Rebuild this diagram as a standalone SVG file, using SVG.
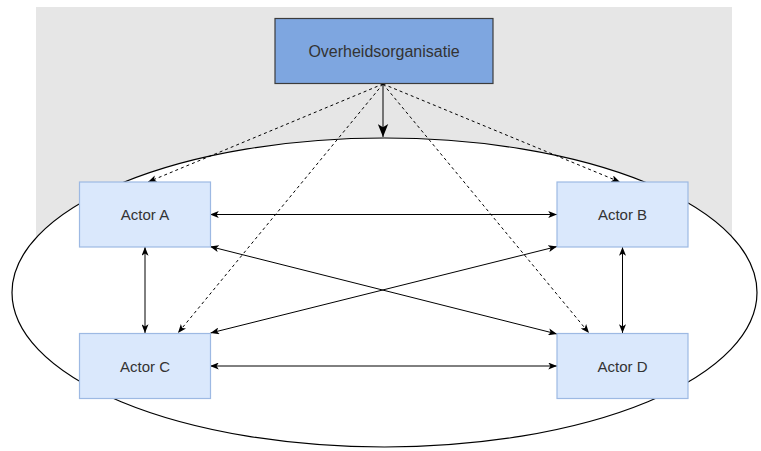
<svg xmlns="http://www.w3.org/2000/svg" width="761" height="451" viewBox="0 0 761 451">
<style>
.lbl{font-family:"Liberation Sans",Arial,sans-serif;fill:#333;text-anchor:middle}
.actor{fill:#DAE8FC;stroke:#9DB9E3;stroke-width:1.2}
.c{fill:none;stroke:#000;stroke-width:1}
.d{fill:none;stroke:#000;stroke-width:1;stroke-dasharray:3 3}
</style>
<defs>
<marker id="arr" viewBox="0 0 10 8" refX="10" refY="4" markerWidth="9" markerHeight="7" markerUnits="userSpaceOnUse" orient="auto-start-reverse">
<path d="M0,0 L10,4 L0,8 L2.5,4 z" fill="#000" stroke="none"/>
</marker>
<marker id="arrBig" viewBox="0 0 10 8" refX="10" refY="4" markerWidth="13" markerHeight="11" markerUnits="userSpaceOnUse" orient="auto">
<path d="M0,0 L10,4 L0,8 L2.5,4 z" fill="#000" stroke="none"/>
</marker>
</defs>
<rect x="36" y="7" width="696" height="231" fill="#E6E6E6"/>
<ellipse id="network" cx="384.5" cy="292.5" rx="372.5" ry="154.5" fill="#fff" stroke="#000" stroke-width="1.2"/>
<g id="connectors">
<line class="c" x1="383" y1="84" x2="383" y2="137" stroke-width="2" marker-end="url(#arrBig)"/>
<line class="d" x1="383" y1="84" x2="148" y2="182" marker-end="url(#arr)"/>
<line class="d" x1="383" y1="84" x2="620" y2="182" marker-end="url(#arr)"/>
<line class="d" x1="383" y1="84" x2="178" y2="333" marker-end="url(#arr)"/>
<line class="d" x1="383" y1="84" x2="589" y2="333" marker-end="url(#arr)"/>
<line class="c" x1="210" y1="214.5" x2="557" y2="214.5" marker-start="url(#arr)" marker-end="url(#arr)"/>
<line class="c" x1="210" y1="366" x2="557" y2="366" marker-start="url(#arr)" marker-end="url(#arr)"/>
<line class="c" x1="145" y1="247" x2="145" y2="333" marker-start="url(#arr)" marker-end="url(#arr)"/>
<line class="c" x1="622.5" y1="247" x2="622.5" y2="333" marker-start="url(#arr)" marker-end="url(#arr)"/>
<line class="c" x1="210" y1="246.5" x2="557" y2="334" marker-start="url(#arr)" marker-end="url(#arr)"/>
<line class="c" x1="557" y1="246.5" x2="210.5" y2="333" marker-start="url(#arr)" marker-end="url(#arr)"/>
</g>
<g id="overheid">
<rect x="275" y="18.5" width="218" height="65" fill="#7EA6E0" stroke="#3C3C3C" stroke-width="1.2"/>
<text class="lbl" x="384" y="57" font-size="16">Overheidsorganisatie</text>
</g>
<g id="actorA">
<rect class="actor" x="79.5" y="182" width="131" height="65"/>
<text class="lbl" x="145" y="220" font-size="15">Actor A</text>
</g>
<g id="actorB">
<rect class="actor" x="557" y="182" width="131" height="65"/>
<text class="lbl" x="622.5" y="220" font-size="15">Actor B</text>
</g>
<g id="actorC">
<rect class="actor" x="79.5" y="333.5" width="131" height="65"/>
<text class="lbl" x="145" y="371.5" font-size="15">Actor C</text>
</g>
<g id="actorD">
<rect class="actor" x="557" y="333.5" width="131" height="65"/>
<text class="lbl" x="622.5" y="371.5" font-size="15">Actor D</text>
</g>
</svg>
